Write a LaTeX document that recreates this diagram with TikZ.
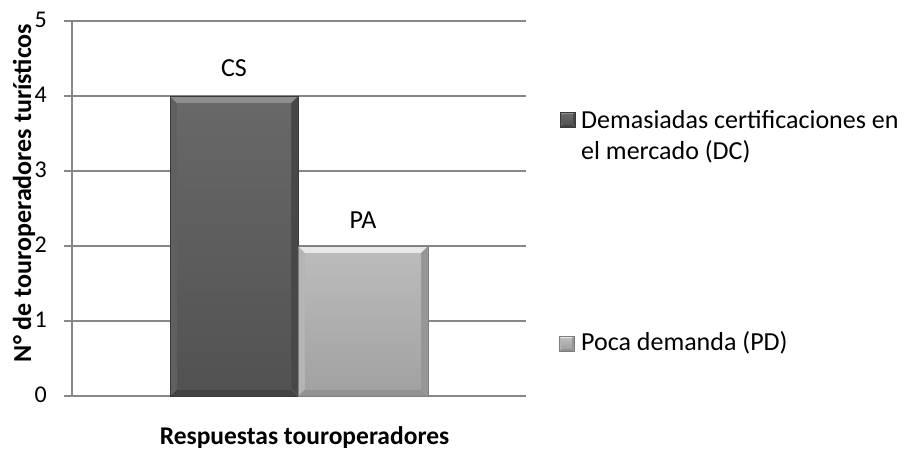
\documentclass[tikz,border=0pt]{standalone}
\usepackage{fontspec}
\setmainfont{Carlito}
\begin{document}
\begin{tikzpicture}[x=1pt,y=-1pt,
  grid/.style={draw=gridgray, line width=1.5pt},
  lbl/.style={inner sep=0pt, font=\fontsize{26}{31}\selectfont, text=black},
  ticklbl/.style={inner sep=0pt, font=\fontsize{24}{28}\selectfont, text=black, anchor=east},
  ttl/.style={inner sep=0pt, font=\fontsize{26}{31}\selectfont\bfseries, text=black},
]
\definecolor{gridgray}{HTML}{878787}
\definecolor{dkEdge}{HTML}{3A3A3A}
\definecolor{dkTop}{HTML}{8E8E8E}
\definecolor{dkLeft}{HTML}{606060}
\definecolor{dkRight}{HTML}{484848}
\definecolor{dkBot}{HTML}{434343}
\definecolor{dkIn1}{HTML}{686868}
\definecolor{dkIn2}{HTML}{525252}
\definecolor{ltEdge}{HTML}{7E7E7E}
\definecolor{ltTop}{HTML}{E8E8E8}
\definecolor{ltLeft}{HTML}{B4B4B4}
\definecolor{ltRight}{HTML}{969696}
\definecolor{ltBot}{HTML}{929292}
\definecolor{ltIn1}{HTML}{BBBBBB}
\definecolor{ltIn2}{HTML}{A2A2A2}
\useasboundingbox[fill=white] (0,0) rectangle (908,451);

% gridlines and ticks
\foreach \k in {0,...,5}{
  \draw[grid] (64,{396-75*\k}) -- (526,{396-75*\k});
  \node[ticklbl] (t\k) at (47,{395-75*\k}) {\k};
}
\draw[grid] (72,21) -- (72,396);

% bevelled bar: #1 x1, #2 y1, #3 x2, #4 y2, #5 prefix, #6 bevel
\newcommand\bevbar[6]{%
  \fill[#5Top] (#1,#2) -- (#3,#2) -- (#3-#6,#2+#6) -- (#1+#6,#2+#6) -- cycle;
  \fill[#5Left] (#1,#2) -- (#1+#6,#2+#6) -- (#1+#6,#4-#6) -- (#1,#4) -- cycle;
  \fill[#5Right] (#3,#2) -- (#3-#6,#2+#6) -- (#3-#6,#4-#6) -- (#3,#4) -- cycle;
  \fill[#5Bot] (#1,#4) -- (#1+#6,#4-#6) -- (#3-#6,#4-#6) -- (#3,#4) -- cycle;
  \shade[top color=#5In1, bottom color=#5In2] (#1+#6,#2+#6) rectangle (#3-#6,#4-#6);
  \draw[#5Edge, line width=0.8pt] (#1,#2) rectangle (#3,#4);
}
\bevbar{170}{96}{298}{396}{dk}{7}
\bevbar{298}{246}{428}{396}{lt}{7}

\node[lbl] (cs) at (234,68.5) {CS};
\node[lbl] (pa) at (363,220) {PA};

% legend
\bevbar{560}{112}{575}{127}{dk}{2.5}
\node[lbl, anchor=base west] (dc1) at (581,128) {Demasiadas certificaciones en};
\node[lbl, anchor=base west] (dc2) at (581,159) {el mercado (DC)};
\bevbar{559}{336}{574}{351}{lt}{2.5}
\node[lbl, anchor=base west] (pd) at (581,350) {Poca demanda (PD)};

% axis titles
\node[ttl, rotate=90] (ytitle) at (24,193) {N° de touroperadores turísticos};
\node[ttl, anchor=base, font=\fontsize{25.5}{31}\selectfont\bfseries] (xtitle) at (304.5,444) {Respuestas touroperadores};
\end{tikzpicture}
\end{document}
